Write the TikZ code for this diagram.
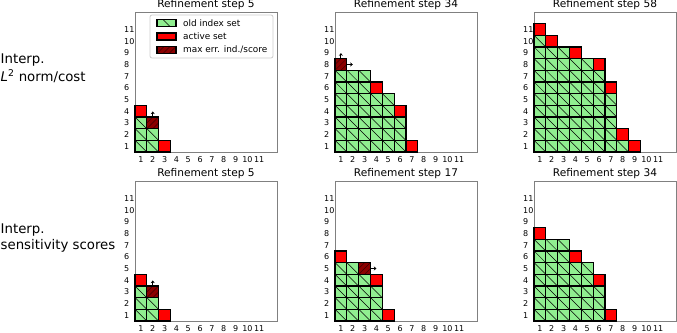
\documentclass[tikz,border=0pt]{standalone}
\usepackage{fontspec}
\setmainfont{DejaVu Sans}
\usepackage{tikz}
\usetikzlibrary{arrows.meta, positioning, calc}
\definecolor{oldgreen}{RGB}{144, 238, 144}
\definecolor{activered}{RGB}{255, 0, 0}
\definecolor{maxred}{RGB}{139, 0, 0}
\definecolor{hatchdark}{RGB}{60, 0, 0}
\definecolor{framegray}{RGB}{128, 128, 128}
\definecolor{leggray}{RGB}{204, 204, 204}
\tikzset{
    gridcell/.style={rectangle, minimum width=11.83pt, minimum height=11.67pt, inner sep=0pt, outer sep=0pt},
    oldcell/.style={draw=black, line width=1.3pt, fill=oldgreen, path picture={\draw[black, line width=0.5pt] (path picture bounding box.center) ++(-8pt,8pt) -- ++(16pt,-16pt);}},
    activecell/.style={draw=black, line width=1.3pt, fill=activered},
    maxcell/.style={draw=black, line width=1.3pt, fill=maxred, path picture={\foreach \k in {-3,...,3} {\draw[hatchdark, line width=0.5pt] (path picture bounding box.center) ++(\k*5.9pt-8pt,-8pt) -- ++(16pt,16pt);}}},
    axframe/.style={rectangle, draw=framegray, line width=0.9pt, minimum width=141.96pt, minimum height=140.04pt, inner sep=0pt, outer sep=0pt},
    titlelab/.style={font=\fontsize{10.6}{12.7}\selectfont, inner sep=0pt},
    ticklab/.style={font=\fontsize{8}{9.6}\selectfont, inner sep=0pt},
    rowlab/.style={font=\fontsize{13.3}{16}\selectfont, inner sep=0pt},
    legbox/.style={rectangle, draw=leggray, line width=0.8pt, rounded corners=2pt, fill=white, inner sep=0pt, outer sep=0pt},
    leghandle/.style={rectangle, minimum width=19pt, minimum height=7pt, inner sep=0pt, outer sep=0pt},
    legtext/.style={font=\fontsize{8.9}{10.7}\selectfont, inner sep=0pt},
    dirarrow/.style={-{Stealth[length=2.6pt, width=4pt]}, line width=0.9pt, black}
}

\begin{document}
\begin{tikzpicture}[x=1pt, y=1pt]
    \useasboundingbox (0,0) rectangle (677,332);

    % Define macro to draw one panel: name, left, bottom, title, old rows (row/count), active cells (col/row/style)
    \def\drawpanel#1#2#3#4#5#6{
        \begin{scope}[shift={(#2,#3)}, x=11.83pt, y=11.67pt, shift={(-0.5,-0.5)}]
            \node[axframe, anchor=south west] (#1) at (0.5,0.5) {};
            \node[titlelab, anchor=base, yshift=4.5pt] (#1-title) at (#1.north) {#4};
            \foreach \i in {1,...,11} {
                \node[ticklab, anchor=base, yshift=-10.5pt] (#1-x\i) at (\i,0.5) {\i};
                \node[ticklab, anchor=west, xshift=-11pt] (#1-y\i) at (0.5,\i) {\i};
            }
            % old index set, row by row
            \foreach \v/\n in {#5} {
                \foreach \u in {1,...,\n} {
                    \node[gridcell, oldcell] (#1-\u-\v) at (\u,\v) {};
                }
            }
            % active set and max err. cell
            \foreach \u/\v/\s in {#6} {
                \node[gridcell, \s] (#1-\u-\v) at (\u,\v) {};
            }
        \end{scope}
    }

    % Draw the six panels
    \drawpanel{tl}{135}{180}{Refinement step 5}{1/2, 2/2, 3/1}{3/1/activecell, 1/4/activecell, 2/3/maxcell}
    \drawpanel{tm}{335}{180}{Refinement step 34}{1/6, 2/6, 3/6, 4/5, 5/5, 6/3, 7/3}{7/1/activecell, 6/4/activecell, 4/6/activecell, 1/8/maxcell}
    \drawpanel{tr}{534}{180}{Refinement step 58}{1/8, 2/7, 3/7, 4/7, 5/7, 6/6, 7/6, 8/5, 9/3, 10/1}{9/1/activecell, 8/2/activecell, 7/6/activecell, 6/8/activecell, 4/9/activecell, 2/10/activecell, 1/11/activecell}
    \drawpanel{bl}{135}{11}{Refinement step 5}{1/2, 2/2, 3/1}{3/1/activecell, 1/4/activecell, 2/3/maxcell}
    \drawpanel{bm}{335}{11}{Refinement step 17}{1/4, 2/4, 3/4, 4/3, 5/2}{5/1/activecell, 4/4/activecell, 1/6/activecell, 3/5/maxcell}
    \drawpanel{br}{534}{11}{Refinement step 34}{1/6, 2/6, 3/6, 4/5, 5/5, 6/3, 7/3}{7/1/activecell, 6/4/activecell, 4/6/activecell, 1/8/activecell}

    % Admissible directions of the max err. cell
    \coordinate (tl-up) at ([yshift=5.5pt]tl-2-3.north);
    \draw[dirarrow] (tl-2-3.north) -- (tl-up);
    \coordinate (tm-up) at ([yshift=5.5pt]tm-1-8.north);
    \coordinate (tm-right) at ([xshift=6pt]tm-1-8.east);
    \draw[dirarrow] (tm-1-8.north) -- (tm-up);
    \draw[dirarrow] (tm-1-8.east) -- (tm-right);
    \coordinate (bl-up) at ([yshift=5.5pt]bl-2-3.north);
    \draw[dirarrow] (bl-2-3.north) -- (bl-up);
    \coordinate (bm-right) at ([xshift=6pt]bm-3-5.east);
    \draw[dirarrow] (bm-3-5.east) -- (bm-right);

    % Legend
    \node[legbox, minimum width=123pt, minimum height=43pt, anchor=north west] (leg) at (150,317) {};
    \node[leghandle, oldcell] (leg-old) at ([xshift=16.5pt, yshift=-8pt]leg.north west) {};
    \node[legtext, right=7pt of leg-old] (leg-old-t) {old index set};
    \node[leghandle, activecell, below=6.5pt of leg-old] (leg-act) {};
    \node[legtext, right=7pt of leg-act] (leg-act-t) {active set};
    \node[leghandle, maxcell, below=6.5pt of leg-act] (leg-max) {};
    \node[legtext, right=7pt of leg-max] (leg-max-t) {max err. ind./score};

    % Row labels
    \node[rowlab, anchor=base west] (lab-l2-a) at (0.5,268) {Interp.};
    \node[rowlab, anchor=base west] (lab-l2-b) at ([yshift=-18pt]lab-l2-a.base west) {\textit{L}\textsuperscript{2} norm/cost};
    \node[rowlab, anchor=base west] (lab-sens-a) at (0.5,98) {Interp.};
    \node[rowlab, anchor=base west] (lab-sens-b) at ([yshift=-16pt]lab-sens-a.base west) {sensitivity scores};
\end{tikzpicture}
\end{document}
